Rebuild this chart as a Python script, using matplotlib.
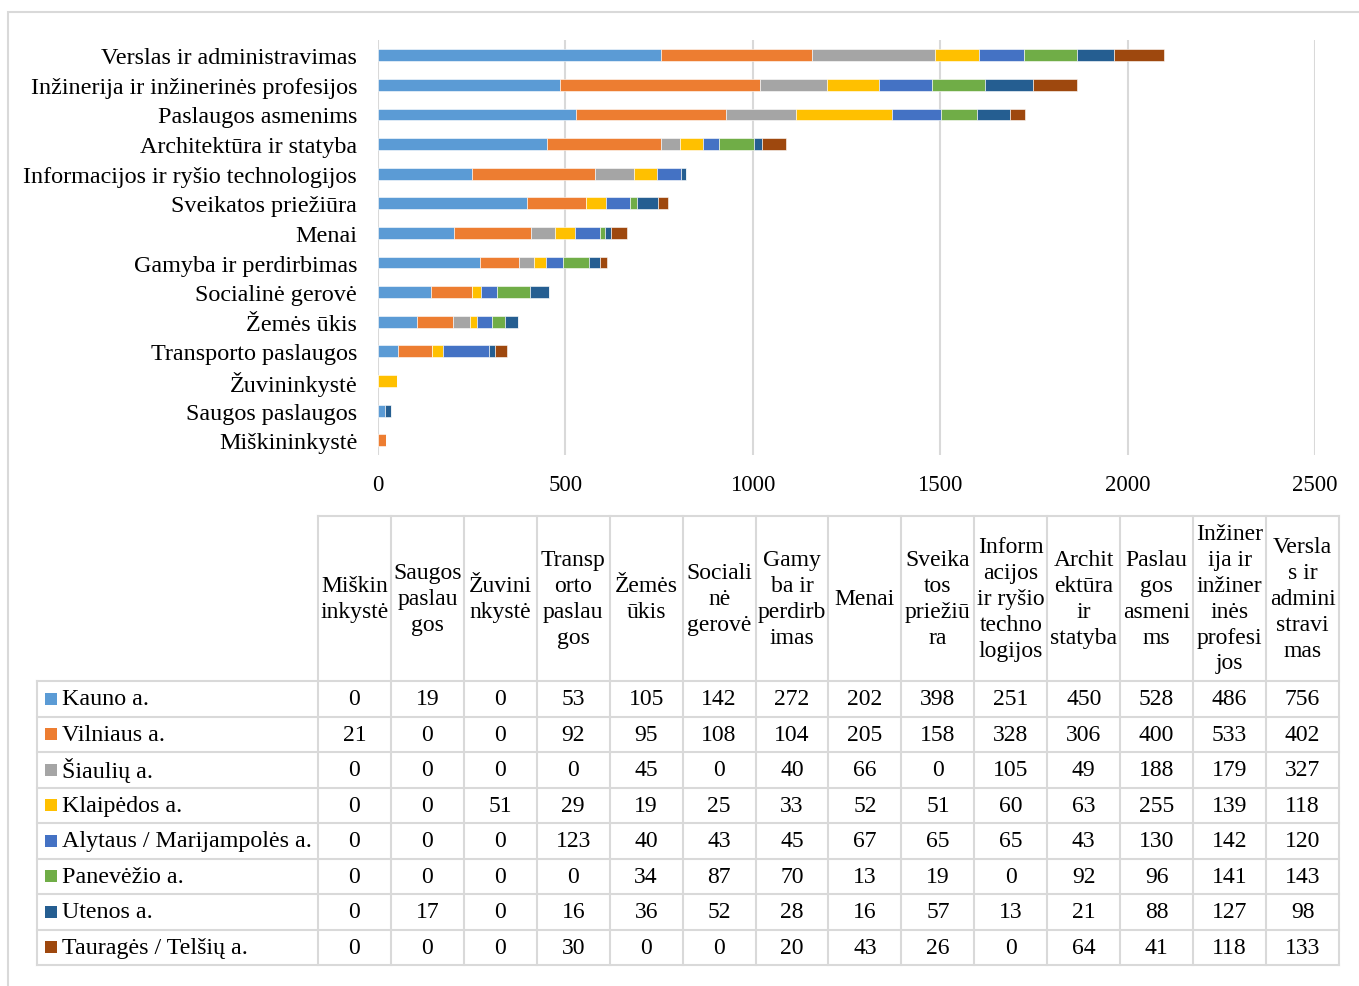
import matplotlib.pyplot as plt
from matplotlib.patches import Rectangle
import numpy as np

plt.rcParams['font.family'] = ['Liberation Serif', 'DejaVu Serif']

categories = ['Miškininkystė', 'Saugos paslaugos', 'Žuvininkystė', 'Transporto paslaugos',
              'Žemės ūkis', 'Socialinė gerovė', 'Gamyba ir perdirbimas', 'Menai',
              'Sveikatos priežiūra', 'Informacijos ir ryšio technologijos',
              'Architektūra ir statyba', 'Paslaugos asmenims',
              'Inžinerija ir inžinerinės profesijos', 'Verslas ir administravimas']
# wrapped like in the table header
headers = ['Miškin\ninkystė', 'Saugos\npaslau\ngos', 'Žuvini\nnkystė', 'Transp\norto\npaslau\ngos',
           'Žemės\nūkis', 'Sociali\nnė\ngerovė', 'Gamy\nba ir\nperdirb\nimas', 'Menai',
           'Sveika\ntos\npriežiū\nra', 'Inform\nacijos\nir ryšio\ntechno\nlogijos',
           'Archit\nektūra\nir\nstatyba', 'Paslau\ngos\nasmeni\nms',
           'Inžiner\nija ir\ninžiner\ninės\nprofesi\njos', 'Versla\ns ir\nadmini\nstravi\nmas']

series = ['Kauno a.', 'Vilniaus a.', 'Šiaulių a.', 'Klaipėdos a.', 'Alytaus / Marijampolės a.',
          'Panevėžio a.', 'Utenos a.', 'Tauragės / Telšių a.']

kauno = [0, 19, 0, 53, 105, 142, 272, 202, 398, 251, 450, 528, 486, 756]
vilniaus = [21, 0, 0, 92, 95, 108, 104, 205, 158, 328, 306, 400, 533, 402]
siauliu = [0, 0, 0, 0, 45, 0, 40, 66, 0, 105, 49, 188, 179, 327]
klaipedos = [0, 0, 51, 29, 19, 25, 33, 52, 51, 60, 63, 255, 139, 118]
alytaus = [0, 0, 0, 123, 40, 43, 45, 67, 65, 65, 43, 130, 142, 120]
panevezio = [0, 0, 0, 0, 34, 87, 70, 13, 19, 0, 92, 96, 141, 143]
utenos = [0, 17, 0, 16, 36, 52, 28, 16, 57, 13, 21, 88, 127, 98]
taurages = [0, 0, 0, 30, 0, 0, 20, 43, 26, 0, 64, 41, 118, 133]

values = [kauno, vilniaus, siauliu, klaipedos, alytaus, panevezio, utenos, taurages]
colors = ['#5B9BD5', '#ED7D31', '#A5A5A5', '#FFC000', '#4472C4', '#70AD47', '#255E91', '#9E480E']

W, H = 1359, 987
fig = plt.figure(figsize=(W / 100, H / 100), dpi=100)
FS = 17
GRID = '#d9d9d9'

# outer frame
fig.patches.append(Rectangle((8 / W, -0.01), 1.01, 1 - 13 / H + 0.01, transform=fig.transFigure,
                             fill=False, edgecolor=GRID, linewidth=1.5))

# ---- stacked bar chart ----
ax = fig.add_axes([378 / W, 1 - 456 / H, 937 / W, 414.6 / H])
y = np.arange(len(categories))
left = np.zeros(len(categories))
for vals, c in zip(values, colors):
    ax.barh(y, vals, left=left, height=0.4, color=c, edgecolor='white', linewidth=0.4)
    left += np.array(vals)

ax.set_xlim(0, 2500)
ax.set_ylim(-0.5, len(categories) - 0.5)
ax.set_xticks(range(0, 2501, 500))
ax.set_yticks(y)
ax.set_yticklabels(categories, fontsize=17.4)
ax.tick_params(axis='x', length=0, pad=14, labelsize=16.5)
ax.tick_params(axis='y', length=0, pad=15)
ax.xaxis.grid(True, color=GRID, linewidth=1.5)
ax.set_axisbelow(True)
for s in ax.spines.values():
    s.set_visible(False)

# ---- data table ----
col_w = (1339 - 318) / 14
row_h = (966 - 682) / 8
label_w = (318 - 37) / col_w
head_h = (682 - 517) / row_h
ncol, nrow = len(categories), len(series)

tax = fig.add_axes([37 / W, 1 - 966 / H, (1339 - 37) / W, (966 - 517) / H])
tax.set_xlim(-label_w, ncol)
tax.set_ylim(nrow, -head_h)
tax.axis('off')

lk = dict(color=GRID, linewidth=1.5, clip_on=False)
for r in range(nrow + 1):
    tax.plot([-label_w, ncol], [r, r], **lk)
tax.plot([0, ncol], [-head_h, -head_h], **lk)
for cidx in range(ncol + 1):
    tax.plot([cidx, cidx], [-head_h, nrow], **lk)
tax.plot([-label_w, -label_w], [0, nrow], **lk)

for cidx, h in enumerate(headers):
    tax.text(cidx + 0.5, -head_h / 2, h, ha='center', va='center', multialignment='center',
             fontsize=FS, linespacing=1.3)

sq_w = 12 / col_w
sq_h = 12 / row_h
for r, (name, vals, c) in enumerate(zip(series, values, colors)):
    tax.add_patch(Rectangle((-label_w + 8 / col_w, r + 0.5 - sq_h / 2), sq_w, sq_h,
                            facecolor=c, edgecolor='none'))
    tax.text(-label_w + 25 / col_w, r + 0.5, name, ha='left', va='center', fontsize=17.3)
    for cidx, v in enumerate(vals):
        tax.text(cidx + 0.5, r + 0.5, str(v), ha='center', va='center', fontsize=FS)

fig.savefig('out.png', dpi=100)
